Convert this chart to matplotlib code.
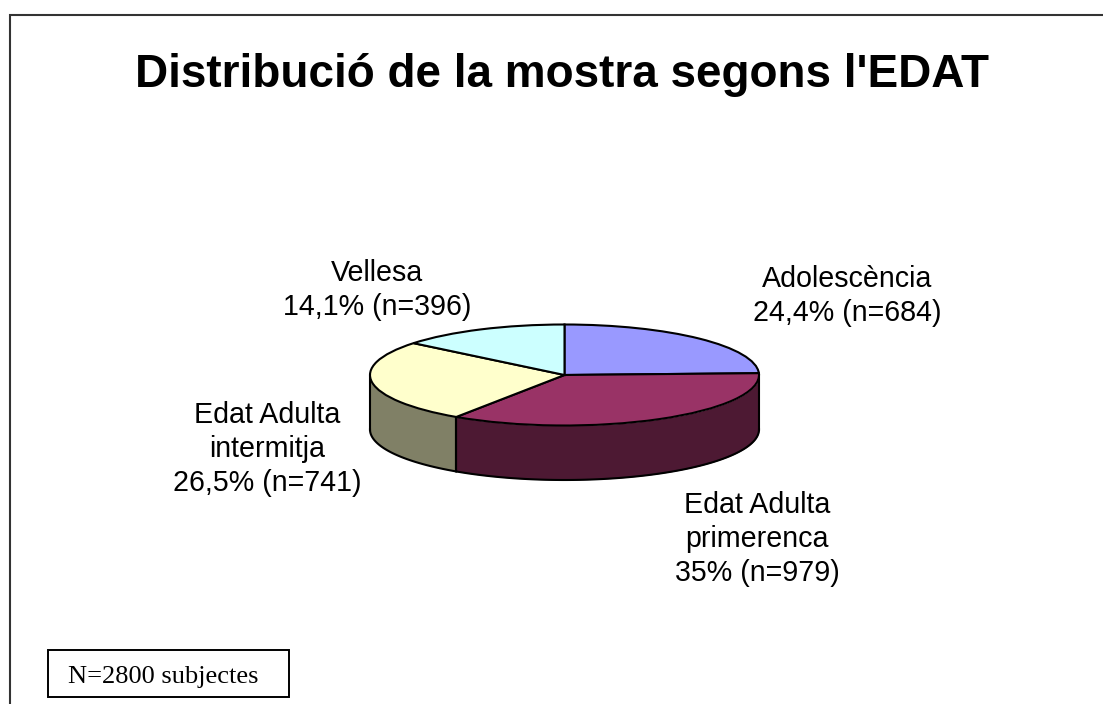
import numpy as np
import matplotlib
matplotlib.use("Agg")
import matplotlib.pyplot as plt
from matplotlib.patches import Rectangle

title = "Distribució de la mostra segons l'EDAT"
note = "N=2800 subjectes"
categories = ["Adolescència", "Edat Adulta\nprimerenca", "Edat Adulta\nintermitja", "Vellesa"]
counts = [684, 979, 741, 396]
pct_text = ["24,4%", "35%", "26,5%", "14,1%"]
top_colors = ["#9999FF", "#993366", "#FFFFCC", "#CCFFFF"]
side_colors = ["#4D4D80", "#4D1933", "#808066", "#668080"]
label_centers = [(847, 296), (757, 539), (267, 449), (377, 290)]

W, H = 1103, 704
fig = plt.figure(figsize=(W / 100, H / 100), dpi=100, facecolor="white")
plt.rcParams["font.family"] = ["Liberation Sans", "DejaVu Sans"]

# page layer in pixel coordinates
page = fig.add_axes([0, 0, 1, 1])
page.set_xlim(0, W)
page.set_ylim(H, 0)
page.axis("off")
page.plot([10, 10, W], [H, 14.5, 14.5], color="#333333", lw=1.5, solid_joinstyle="miter", clip_on=False)
page.text(562, 75, title, ha="center", va="center", fontsize=33, fontweight="bold", color="black")
for name, n, pct, (cx, cy) in zip(categories, counts, pct_text, label_centers):
    page.text(cx, cy, f"{name}\n{pct} (n={n})", ha="center", va="center", fontsize=20.6,
              color="black", linespacing=1.28)
page.add_patch(Rectangle((47.5, 650), 241, 47, facecolor="white", edgecolor="black", lw=1.4))
page.text(68, 677, note, ha="left", va="center", fontsize=19, family=["Liberation Serif"], color="black")

# pie layer: squashed unit circle with extruded rim
left, right, top, bottom = 370, 759, 324.5, 480
ry_px = 50.5
depth = (bottom - top - 2 * ry_px) / ry_px
ax = fig.add_axes([left / W, 1 - bottom / H, (right - left) / W, (bottom - top) / H])
ax.patch.set_alpha(0)
edge_lw = 1.5

shares = np.array(counts) / sum(counts)
edges = 90 - 360 * np.concatenate([[0], np.cumsum(shares)])
for i in range(len(counts)):
    # the front rim is the part of the slice's arc between -180 and 0 degrees
    a = max(edges[i + 1], -180)
    b = min(edges[i], 0)
    if b > a:
        t = np.radians(np.linspace(a, b, 120))
        x, y = np.cos(t), np.sin(t)
        ax.fill_between(x, y, y - depth, color=side_colors[i], lw=0, zorder=1)
        ax.plot(x, y - depth, color="black", lw=edge_lw, zorder=2, clip_on=False)
        ax.plot([x[0], x[0]], [y[0], y[0] - depth], color="black", lw=edge_lw, zorder=2, clip_on=False)
        ax.plot([x[-1], x[-1]], [y[-1], y[-1] - depth], color="black", lw=edge_lw, zorder=2, clip_on=False)

wedges, _ = ax.pie(counts, colors=top_colors, startangle=90, counterclock=False, radius=1,
                   wedgeprops=dict(edgecolor="black", linewidth=edge_lw), frame=True)
for w in wedges:
    w.set_zorder(3)
    w.set_clip_on(False)
ax.set_aspect("auto")
ax.set_xlim(-1, 1)
ax.set_ylim(1 - (bottom - top) / ry_px, 1)
ax.axis("off")

fig.savefig("out.png", dpi=100, facecolor="white")
